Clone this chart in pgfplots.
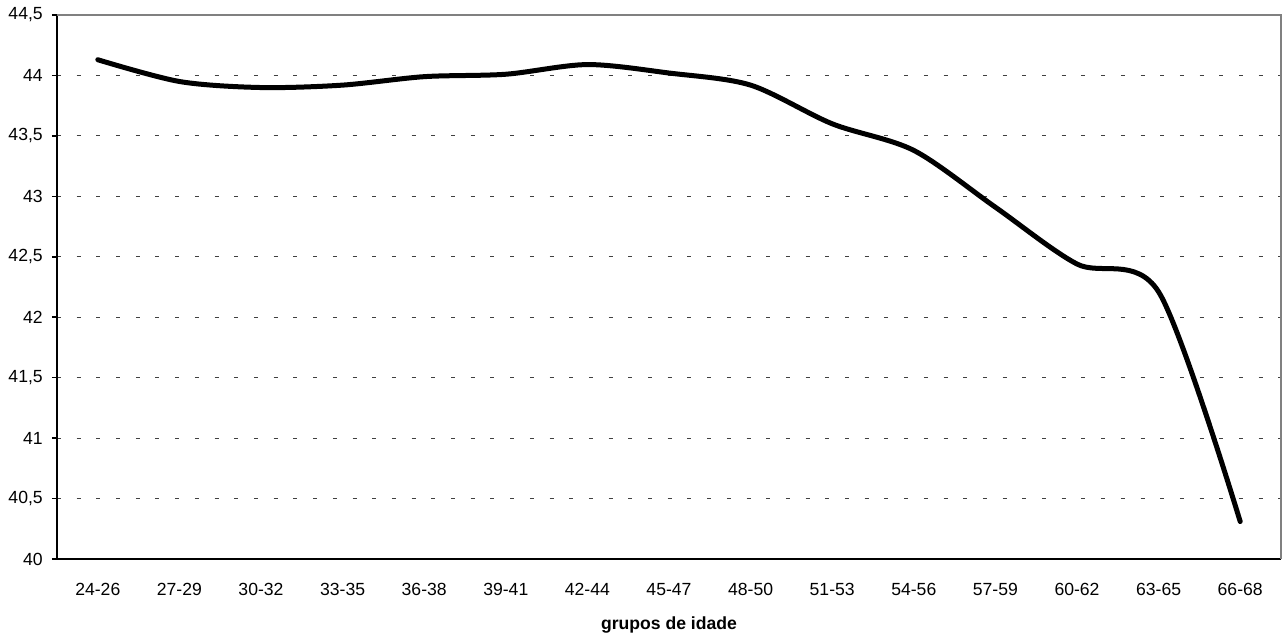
\documentclass[border=0pt]{standalone}
\usepackage{pgfplots}
\pgfplotsset{compat=1.18}
\usepackage{fontspec}
\setmainfont{Liberation Sans}
\begin{document}
\fontsize{8.8bp}{10.5bp}\selectfont
\begin{tikzpicture}
\path[use as bounding box] (-28.5bp,-39bp) rectangle (613.5bp,279.5bp);
\begin{axis}[
  anchor=south west, at={(0,0)},
  scale only axis,
  width=612bp, height=272bp,
  xmin=-0.5, xmax=14.5,
  ymin=40, ymax=44.5,
  axis x line*=bottom,
  axis y line*=left,
  axis line style={black, line width=0.75bp, -},
  xtick={0,...,14},
  xticklabels={24-26,27-29,30-32,33-35,36-38,39-41,42-44,45-47,48-50,51-53,54-56,57-59,60-62,63-65,66-68},
  major x tick style={draw=none},
  extra x ticks={-0.5,0.5,...,14.5},
  extra x tick labels={},
  extra x tick style={major tick length=2.5bp, tick align=outside, grid=none, tick style={black, line width=0.75bp}},
  xticklabel style={yshift=-6.5bp},
  ytick={40,40.5,...,44.5},
  ytick style={black, line width=0.75bp},
  major tick length=2.5bp,
  tick align=outside,
  yticklabel style={xshift=-1.5bp, /pgf/number format/.cd, use comma, fixed, precision=1, assume math mode=true},
  ymajorgrids,
  grid style={black!75, line width=0.5bp, dash pattern=on 2bp off 7.85bp},
  xlabel={\bfseries grupos de idade},
  xlabel style={yshift=0.5bp},
  clip=false,
  tick label style={font=\fontsize{8.8bp}{10.5bp}\selectfont},
  label style={font=\fontsize{8.8bp}{10.5bp}\selectfont},
]
\addplot[black, line width=2.5bp, smooth, tension=0.5, line cap=round] coordinates {
(0,44.13) (1,43.95) (2,43.90) (3,43.92) (4,43.99) (5,44.01) (6,44.09) (7,44.02)
(8,43.92) (9,43.60) (10,43.38) (11,42.91) (12,42.44) (13,42.21) (14,40.31)
};
\draw[gray, line width=0.75bp] (rel axis cs:0,1) -- (rel axis cs:1,1) -- (rel axis cs:1,0);
\end{axis}
\end{tikzpicture}
\end{document}
